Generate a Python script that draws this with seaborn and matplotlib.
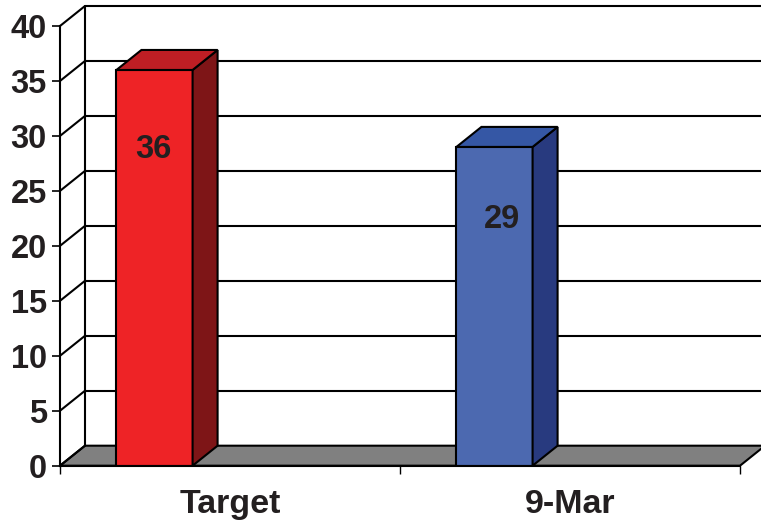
import matplotlib
matplotlib.use("Agg")
import matplotlib.pyplot as plt
from matplotlib.patches import Polygon
import seaborn as sns

categories = ["Target", "9-Mar"]
values = [36, 29]
y_ticks = [0, 5, 10, 15, 20, 25, 30, 35, 40]

front_colors = ["#ee2326", "#4c69b0"]
side_colors = ["#7e1517", "#283a7f"]
top_colors = ["#be1e24", "#3557a5"]
floor_color = "#808080"
ink = "#231f20"

# Extrusion of the pseudo-3D box, in data units
depth_x = 0.0735
depth_y = 1.82
bar_shift = -0.222
line_w = 1.5

sns.set_style("white")
plt.rcParams["font.family"] = ["Liberation Sans", "DejaVu Sans"]
plt.rcParams["font.weight"] = "bold"

W, H = 761, 522
fig = plt.figure(figsize=(W / 100, H / 100), dpi=100)
ax = fig.add_axes([60 / W, 1 - 465.7 / H, 680 / W, 439.7 / H])
ax.patch.set_alpha(0)

sns.barplot(x=categories, y=values, hue=categories, palette=front_colors,
            width=0.224, saturation=1, legend=False, ax=ax,
            edgecolor="black", linewidth=line_w, zorder=3)
bars = sorted(ax.patches, key=lambda p: p.get_x())
ax.set_xlim(-0.5, 1.5)
ax.set_ylim(0, 40)

x0, x1 = -0.5, 1.5

# Floor of the box
ax.add_patch(Polygon([(x0, 0), (x1, 0), (x1 + depth_x, depth_y), (x0 + depth_x, depth_y)],
                     closed=True, facecolor=floor_color, edgecolor="black",
                     linewidth=line_w, clip_on=False, zorder=1))

# Back wall gridlines and the diagonals running across the left wall
for t in y_ticks:
    if t > 0:
        ax.plot([x0 + depth_x, x1 + depth_x], [t + depth_y] * 2, color="black",
                lw=line_w, clip_on=False, zorder=1, solid_capstyle="butt")
    ax.plot([x0, x0 + depth_x], [t, t + depth_y], color="black", lw=line_w,
            clip_on=False, zorder=1)
ax.plot([x0 + depth_x] * 2, [depth_y, y_ticks[-1] + depth_y], color="black",
        lw=line_w, clip_on=False, zorder=1)

# Side and top faces of each bar
for bar, side, top in zip(bars, side_colors, top_colors):
    bar.set_x(bar.get_x() + bar_shift)
    left, right, h = bar.get_x(), bar.get_x() + bar.get_width(), bar.get_height()
    ax.add_patch(Polygon([(right, 0), (right + depth_x, depth_y),
                          (right + depth_x, h + depth_y), (right, h)],
                         closed=True, facecolor=side, edgecolor="black",
                         linewidth=line_w, clip_on=False, zorder=3))
    ax.add_patch(Polygon([(left, h), (right, h), (right + depth_x, h + depth_y),
                          (left + depth_x, h + depth_y)],
                         closed=True, facecolor=top, edgecolor="black",
                         linewidth=line_w, clip_on=False, zorder=3))

# Value labels inside the bars (offsets in points)
label_offsets = [(-0.8, -57), (5.7, -52.5)]
for bar, v, off in zip(bars, values, label_offsets):
    ax.annotate(str(v), (bar.get_x() + bar.get_width() / 2, v), xytext=off,
                textcoords="offset points", ha="center", va="center",
                fontsize=23.5, fontweight="bold", color=ink, zorder=5)

# Axes
sns.despine(ax=ax, top=True, right=True)
for side in ("left", "bottom"):
    ax.spines[side].set_linewidth(line_w)
    ax.spines[side].set_color("black")
    ax.spines[side].set_zorder(4)
ax.set_yticks(y_ticks)
ax.set_yticklabels([str(t) for t in y_ticks])
ax.set_xticks([0, 1])
ax.set_xticklabels(categories)
ax.set_xticks([-0.5, 0.5, 1.5], minor=True)
ax.tick_params(axis="y", left=True, length=5.5, width=1.2, pad=4, labelsize=23.5,
               labelcolor=ink, color="black")
ax.tick_params(axis="x", which="major", bottom=False, length=0, pad=17, labelsize=24.5,
               labelcolor=ink)
ax.tick_params(axis="x", which="minor", bottom=True, length=5.5, width=1.0, color="black")
for lab in ax.get_xticklabels() + ax.get_yticklabels():
    lab.set_fontweight("bold")

fig.savefig("out.png", dpi=100)
